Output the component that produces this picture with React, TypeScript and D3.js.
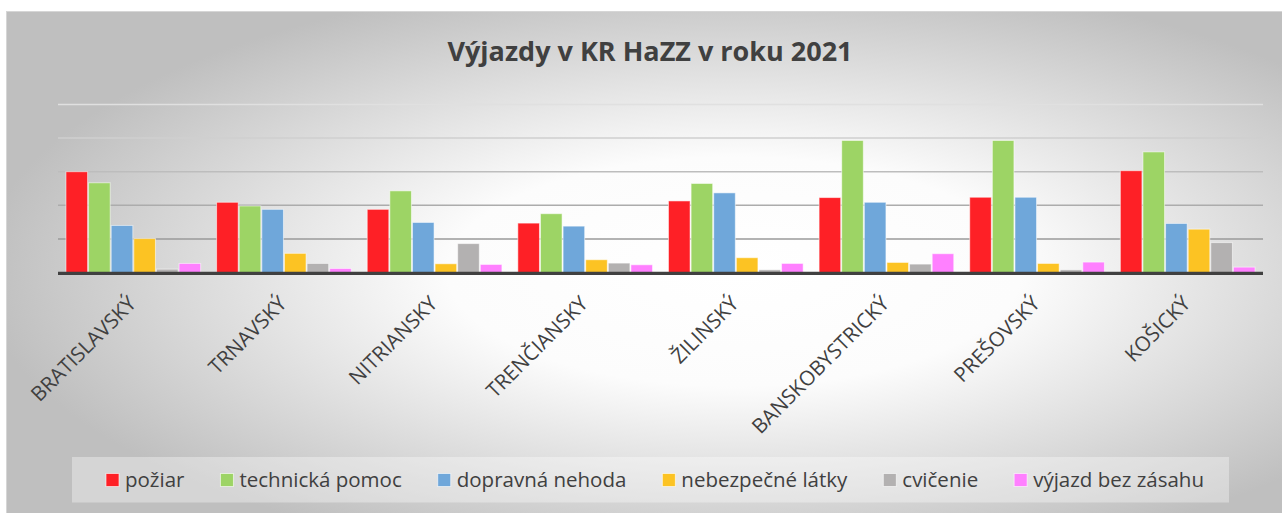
import { useEffect, useRef } from 'react';
import * as d3 from 'd3';

const categories = ['BRATISLAVSKÝ', 'TRNAVSKÝ', 'NITRIANSKY', 'TRENČIANSKY', 'ŽILINSKÝ', 'BANSKOBYSTRICKÝ', 'PREŠOVSKÝ', 'KOŠICKÝ'];
const seriesNames = ['požiar', 'technická pomoc', 'dopravná nehoda', 'nebezpečné látky', 'cvičenie', 'výjazd bez zásahu'];
const seriesColors = ['#fe2026', '#9dd465', '#6fa7da', '#fcc323', '#b3b1b1', '#ff80ff'];

const poziar = [3000, 2090, 1880, 1470, 2130, 2230, 2240, 3030];
const technickaPomoc = [2670, 1980, 2430, 1750, 2650, 3930, 3930, 3590];
const dopravnaNehoda = [1400, 1880, 1490, 1380, 2370, 2090, 2240, 1460];
const nebezpecneLatky = [1010, 570, 260, 380, 440, 300, 270, 1290];
const cvicenie = [100, 270, 860, 280, 80, 250, 80, 890];
const vyjazdBezZasahu = [270, 120, 240, 230, 270, 560, 310, 160];

const yTicks = [0, 1000, 2000, 3000, 4000, 5000];

const W = 1282;
const H = 513;

function App() {
  const svgRef = useRef<SVGSVGElement>(null);

  useEffect(() => {
    if (!svgRef.current) return;
    const svg = d3.select(svgRef.current);
    svg.selectAll('*').remove();

    const values = [poziar, technickaPomoc, dopravnaNehoda, nebezpecneLatky, cvicenie, vyjazdBezZasahu];
    const font = '"Open Sans", "Noto Sans", sans-serif';

    // Background gradient
    const defs = svg.append('defs');
    const bg = defs.append('radialGradient')
      .attr('id', 'bg')
      .attr('cx', '56%')
      .attr('cy', '50%')
      .attr('r', '58%');
    bg.append('stop').attr('offset', '0%').attr('stop-color', '#ffffff');
    bg.append('stop').attr('offset', '38%').attr('stop-color', '#fcfcfc');
    bg.append('stop').attr('offset', '100%').attr('stop-color', '#bfbfbf');

    svg.append('rect')
      .attr('x', 6.5)
      .attr('y', 11.5)
      .attr('width', 1300)
      .attr('height', 520)
      .attr('fill', 'url(#bg)')
      .attr('stroke', '#d6d6d6')
      .attr('stroke-width', 1);

    // Title
    svg.append('text')
      .attr('x', 650)
      .attr('y', 61)
      .attr('text-anchor', 'middle')
      .attr('fill', '#404040')
      .style('font-family', font)
      .style('font-size', '27px')
      .style('font-weight', 'bold')
      .text('Výjazdy v KR HaZZ v roku 2021');

    const x0 = d3.scaleBand().domain(categories).range([58, 1263]).padding(0);
    const x1 = d3.scaleBand().domain(seriesNames).range([0, x0.bandwidth()]).paddingInner(0).paddingOuter(0.33);
    const y = d3.scaleLinear().domain([0, 5000]).range([272.5, 104.5]);

    const gridColor = d3.scaleLinear<string>().domain([1000, 5000]).range(['#9a9a9a', '#e0e0e0']);

    // Grid
    svg.append('g')
      .selectAll('line')
      .data(yTicks.filter(t => t > 0))
      .join('line')
      .attr('x1', 58)
      .attr('x2', 1263)
      .attr('y1', d => y(d))
      .attr('y2', d => y(d))
      .attr('stroke', d => gridColor(d))
      .attr('stroke-width', 1.5);

    // Bars
    const groups = svg.append('g')
      .selectAll('g')
      .data(categories)
      .join('g')
      .attr('transform', d => `translate(${x0(d)}, 0)`);

    groups.selectAll('rect')
      .data((_, i) => values.map((v, s) => ({ s, v: v[i] })))
      .join('rect')
      .attr('x', d => (x1(seriesNames[d.s]) as number) + 0.5)
      .attr('y', d => y(d.v))
      .attr('width', x1.bandwidth() - 1)
      .attr('height', d => y(0) - y(d.v))
      .attr('fill', d => seriesColors[d.s])
      .attr('stroke', 'rgba(255,255,255,0.55)')
      .attr('stroke-width', 1);

    // Baseline
    svg.append('line')
      .attr('x1', 58)
      .attr('x2', 1263)
      .attr('y1', 273.3)
      .attr('y2', 273.3)
      .attr('stroke', '#404040')
      .attr('stroke-width', 3.2);

    // Category labels
    svg.append('g')
      .selectAll('text')
      .data(categories)
      .join('text')
      .attr('transform', d => `translate(${(x0(d) as number) + x0.bandwidth() / 2 + 4}, 305) rotate(-45)`)
      .attr('text-anchor', 'end')
      .attr('fill', '#404040')
      .style('font-family', font)
      .style('font-size', '20.5px')
      .text(d => d);

    // Legend
    svg.append('rect')
      .attr('x', 72)
      .attr('y', 457)
      .attr('width', 1157)
      .attr('height', 45.5)
      .attr('fill', 'rgba(255,255,255,0.35)');

    const legend = svg.append('g');
    const items = legend.selectAll('g')
      .data(seriesNames)
      .join('g');
    items.append('rect')
      .attr('x', 0)
      .attr('y', -13.5)
      .attr('width', 13)
      .attr('height', 13)
      .attr('fill', (_, i) => seriesColors[i])
      .attr('stroke', 'rgba(255,255,255,0.6)')
      .attr('stroke-width', 1);
    items.append('text')
      .attr('x', 19)
      .attr('y', 0)
      .attr('fill', '#404040')
      .style('font-family', font)
      .style('font-size', '20.5px')
      .text(d => d);

    const widths: number[] = [];
    items.each(function () {
      widths.push(19 + (d3.select(this).select('text').node() as SVGTextElement).getComputedTextLength());
    });
    const gap = 36;
    const total = d3.sum(widths) + gap * (widths.length - 1);
    let pos = 655 - total / 2;
    items.attr('transform', (_, i) => {
      const t = `translate(${pos}, 487)`;
      pos += widths[i] + gap;
      return t;
    });
  }, []);

  return (
    <div style={{ position: 'absolute', left: 0, top: 0, width: W, height: H, background: '#fff' }}>
      <svg ref={svgRef} width={W} height={H}></svg>
    </div>
  );
}

export default App;
